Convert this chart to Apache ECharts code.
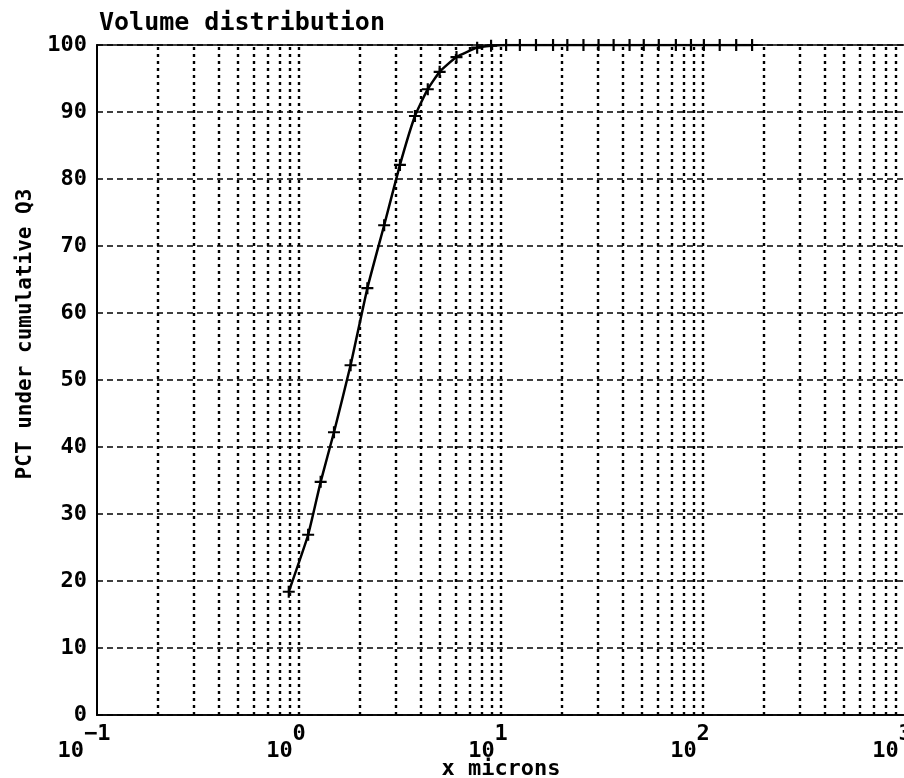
<!DOCTYPE html>
<html>
<head>
<meta charset="utf-8">
<script src="https://cdn.jsdelivr.net/npm/echarts@6/dist/echarts.min.js"></script>
<style>
html,body{margin:0;padding:0;background:#fff;}
#chart{width:904px;height:778px;}
</style>
</head>
<body>
<div id="chart"></div>
<script>
// Particle size (x, microns)
const xMicrons = [0.89, 1.11, 1.28, 1.49, 1.80, 2.18, 2.64, 3.16, 3.75, 4.34, 4.97, 6.02, 7.62, 8.93,
  10.6, 12.4, 14.9, 18.1, 21.3, 25.6, 30.4, 36.1, 43.3, 50.9, 60.4, 73.4, 87.2, 101, 121, 146, 175];
// Cumulative volume percent under size (Q3)
const q3 = [18.4, 26.9, 34.8, 42.2, 52.2, 63.7, 73.1, 82.1, 89.4, 93.4, 96.0, 98.2, 99.6, 99.9,
  100, 100, 100, 100, 100, 100, 100, 100, 100, 100, 100, 100, 100, 100, 100, 100, 100];
// Vertical grid positions (log decades and 2..9 subdivisions)
const xGridLines = [0.2, 0.3, 0.4, 0.5, 0.6, 0.7, 0.8, 0.9, 1,
  2, 3, 4, 5, 6, 7, 8, 9, 10,
  20, 30, 40, 50, 60, 70, 80, 90, 100,
  200, 300, 400, 500, 600, 700, 800, 900];
const yTicks = [0, 10, 20, 30, 40, 50, 60, 70, 80, 90, 100];

const FONT = 'DejaVu Sans Mono';
const chart = echarts.init(document.getElementById('chart'), null, {renderer: 'canvas'});
const plus = 'path://M4.5,0H6.5V4.5H11V6.5H6.5V11H4.5V6.5H0V4.5H4.5Z';

chart.setOption({
  animation: false,
  backgroundColor: '#fff',
  title: {
    text: 'Volume distribution',
    left: 94, top: 6,
    textStyle: {fontFamily: FONT, fontWeight: 'bold', fontSize: 25, color: '#000'}
  },
  grid: {
    left: 97, right: -1, top: 45, bottom: 63,
    outerBoundsMode: 'none', containLabel: false,
    show: true, borderColor: '#000', borderWidth: 1.5, backgroundColor: 'transparent'
  },
  xAxis: {
    type: 'log', logBase: 10, min: 0.1, max: 1000,
    name: 'x microns', nameLocation: 'middle', nameGap: 43,
    nameMoveOverlap: false,
    nameTextStyle: {fontFamily: FONT, fontWeight: 'bold', fontSize: 22, color: '#000', lineHeight: 22},
    axisLine: {show: true, lineStyle: {color: '#000', width: 1.5}},
    axisTick: {show: false},
    splitLine: {show: false},
    axisLabel: {
      show: true, margin: 8, showMaxLabel: true, showMinLabel: true,
      formatter: function (v) {
        const e = Math.round(Math.log10(v));
        return '{b|10}{e|' + (e < 0 ? '\u2212' + (-e) : e) + '}{s|}';
      },
      rich: {
        b: {fontFamily: FONT, fontWeight: 'bold', fontSize: 22, color: '#000', padding: [17, 0, 0, 0]},
        e: {fontFamily: FONT, fontWeight: 'bold', fontSize: 22, color: '#000', padding: [0, 0, 17, 0]},
        s: {width: 26, fontSize: 22}
      }
    }
  },
  yAxis: {
    type: 'value', min: 0, max: 100, interval: 10,
    name: 'PCT under cumulative Q3', nameLocation: 'middle', nameGap: 54,
    nameTextStyle: {fontFamily: FONT, fontWeight: 'bold', fontSize: 21, color: '#000', padding: [0, 0, 0, 92]},
    axisLine: {show: true, lineStyle: {color: '#000', width: 2}},
    axisTick: {show: false},
    axisLabel: {
      margin: 10,
      formatter: function (v) { return yTicks.indexOf(v) >= 0 ? String(v) : ''; },
      fontFamily: FONT, fontWeight: 'bold', fontSize: 22, color: '#000'
    },
    splitLine: {show: true, lineStyle: {color: '#000', width: 1.6, type: [6, 4]}}
  },
  series: [{
    type: 'line',
    data: xMicrons.map((x, i) => [x, q3[i]]),
    symbol: plus, symbolSize: 12, showSymbol: true,
    smooth: 0.15,
    itemStyle: {color: '#000'},
    lineStyle: {color: '#000', width: 2.5},
    z: 5,
    markLine: {
      silent: true, symbol: ['none', 'none'], label: {show: false},
      lineStyle: {color: '#000', width: 2.4, type: [3, 4]},
      data: xGridLines.map(v => ({xAxis: v})),
      z: 1
    }
  }]
});
</script>
</body>
</html>
